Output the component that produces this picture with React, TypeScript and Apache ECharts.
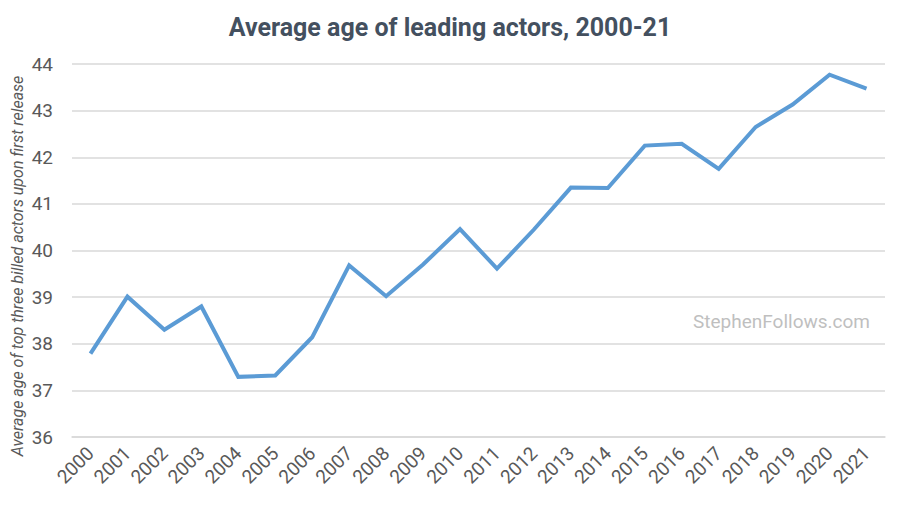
import React, { useEffect, useRef } from "react";
import * as echarts from "echarts";

const years = ["2000","2001","2002","2003","2004","2005","2006","2007","2008","2009","2010","2011","2012","2013","2014","2015","2016","2017","2018","2019","2020","2021"];
const avgAge = [37.79,39.01,38.3,38.8,37.29,37.32,38.14,39.68,39.02,39.7,40.46,39.61,40.45,41.35,41.34,42.25,42.29,41.75,42.65,43.13,43.77,43.47];
const yTicks = { min: 36, max: 44, interval: 1 };

export default function App() {
  const ref = useRef<HTMLDivElement>(null);
  useEffect(() => {
    document.body.style.margin = "0";
    if (!ref.current) return;
    const chart = echarts.init(ref.current, null, { renderer: "svg" });
    chart.setOption({
      animation: false,
      backgroundColor: "#ffffff",
      title: {
        text: "Average age of leading actors, 2000-21",
        left: "center",
        top: 10,
        textStyle: { fontFamily: "Roboto", fontWeight: "bold", fontSize: 25, color: "#44505f" },
      },
      grid: { left: 72, right: 15, top: 64, bottom: 71 },
      xAxis: {
        type: "category",
        data: years,
        boundaryGap: true,
        axisLine: { show: true, lineStyle: { color: "#d9d9d9", width: 1.5 } },
        axisTick: { show: false },
        axisLabel: { rotate: 45, fontFamily: "Roboto", fontSize: 19, color: "#595959", margin: 13, interval: 0 },
      },
      yAxis: {
        type: "value",
        min: yTicks.min,
        max: yTicks.max,
        interval: yTicks.interval,
        axisLine: { show: false },
        axisTick: { show: false },
        axisLabel: { fontFamily: "Roboto", fontSize: 19, color: "#595959", margin: 19 },
        splitLine: { lineStyle: { color: "#d9d9d9", width: 1.5 } },
      },
      graphic: [
        {
          type: "text",
          x: 17,
          y: 266,
          rotation: Math.PI / 2,
          style: {
            text: "Average age of top three billed actors upon first release",
            fontFamily: "Roboto",
            fontStyle: "italic",
            fontSize: 16,
            fill: "#595959",
            align: "center",
            verticalAlign: "middle",
          },
        },
        {
          type: "text",
          x: 870,
          y: 321,
          style: {
            text: "StephenFollows.com",
            fontFamily: "Roboto",
            fontSize: 19,
            fill: "#bfbfbf",
            align: "right",
            verticalAlign: "middle",
          },
        },
      ],
      series: [
        {
          type: "line",
          data: avgAge,
          showSymbol: false,
          symbol: "none",
          lineStyle: { color: "#5b9bd5", width: 4, join: "miter" },
          itemStyle: { color: "#5b9bd5" },
        },
      ],
    });
    return () => chart.dispose();
  }, []);
  return <div ref={ref} style={{ width: 900, height: 508 }} />;
}
